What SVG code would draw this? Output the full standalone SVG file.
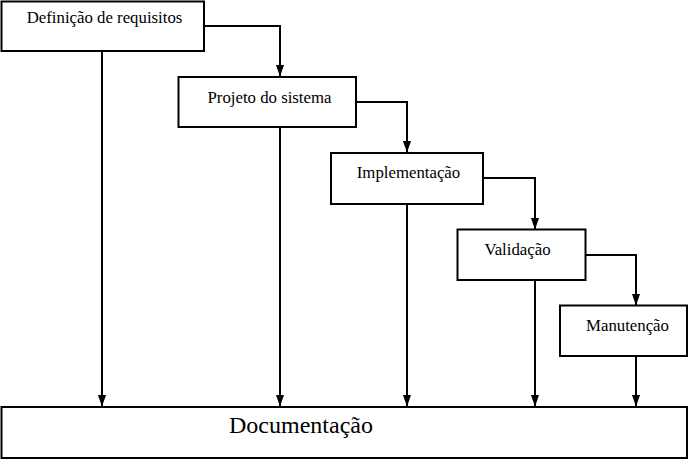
<svg xmlns="http://www.w3.org/2000/svg" width="688" height="460" viewBox="0 0 688 460">
<style>
.box{fill:#fff;stroke:#000;stroke-width:2}
.lbl{font-family:"Liberation Serif","Times New Roman",serif;font-size:16.8px;fill:#000;text-anchor:middle}
.big{font-size:24px}
.con{fill:none;stroke:#000;stroke-width:2}
</style>
<defs>
<marker id="ah" markerUnits="userSpaceOnUse" markerWidth="12" markerHeight="12" viewBox="0 0 12 10" refX="11.5" refY="5" orient="auto">
<path d="M0,0.8 L12,5 L0,9.2 Z" fill="#000"/>
</marker>
</defs>
<g id="connectors">
<path class="con" d="M204,26 H280 V76" marker-end="url(#ah)"/>
<path class="con" d="M356,102 H407 V152" marker-end="url(#ah)"/>
<path class="con" d="M483,178 H535 V229" marker-end="url(#ah)"/>
<path class="con" d="M585,255 H636 V305" marker-end="url(#ah)"/>
<path class="con" d="M102,51 V406" marker-end="url(#ah)"/>
<path class="con" d="M280,127 V406" marker-end="url(#ah)"/>
<path class="con" d="M407,204 V406" marker-end="url(#ah)"/>
<path class="con" d="M535,280 V406" marker-end="url(#ah)"/>
<path class="con" d="M636,356 V406" marker-end="url(#ah)"/>
</g>
<g id="n1"><rect class="box" x="1.5" y="1.5" width="202.5" height="49.5"/><text class="lbl" x="104.5" y="23">Definição de requisitos</text></g>
<g id="n2"><rect class="box" x="178.5" y="77" width="177.5" height="50"/><text class="lbl" x="269.5" y="103">Projeto do sistema</text></g>
<g id="n3"><rect class="box" x="331" y="153" width="152" height="51"/><text class="lbl" x="408.5" y="178">Implementação</text></g>
<g id="n4"><rect class="box" x="457.5" y="229.5" width="128" height="50.5"/><text class="lbl" x="517.5" y="255">Validação</text></g>
<g id="n5"><rect class="box" x="560" y="305.5" width="127" height="50.5"/><text class="lbl" x="627.5" y="331">Manutenção</text></g>
<g id="doc"><rect class="box" x="1.5" y="407" width="685.5" height="51"/><text class="lbl big" x="301" y="433">Documentação</text></g>
</svg>
